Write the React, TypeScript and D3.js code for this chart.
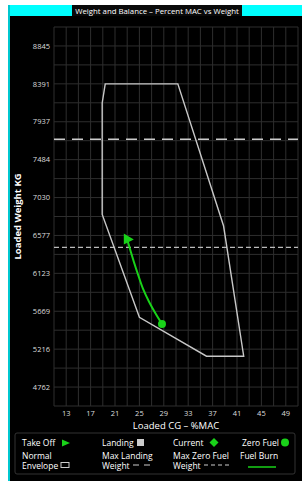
import React from "react";
import { scaleLinear, line, range, curveMonotoneY } from "d3";

// chart values
const yTicks = [4762, 5216, 5669, 6123, 6577, 7030, 7484, 7937, 8391, 8845];
const xTicks = [13, 17, 21, 25, 29, 33, 37, 41, 45, 49];
const envelopeCg = [19.4, 18.9, 18.9, 25.0, 36.0, 42.1, 38.8, 31.3];
const envelopeKg = [8391, 8163, 6829, 5597, 5132, 5132, 6690, 8391];
const fuelBurnCg = [23.1, 23.6, 24.1, 24.8, 25.6, 26.6, 27.6, 28.7];
const fuelBurnKg = [6505, 6379, 6260, 6104, 5937, 5781, 5649, 5518];
const takeOffCg = 23.1;
const takeOffKg = 6530;
const zeroFuelCg = 28.7;
const zeroFuelKg = 5518;
const maxLandingKg = 7730;
const maxZeroFuelKg = 6435;

const font = "'Open Sans', sans-serif";
const green = "#19d219";

function App() {
  const width = 302;
  const height = 481;
  const plot = { left: 54, right: 298, top: 27, bottom: 406 };

  const x = scaleLinear().domain([11, 51]).range([plot.left, plot.right]);
  const y = scaleLinear().domain([4536, 9072]).range([plot.bottom, plot.top]);

  const vGrid = range(11, 51.01, 2);
  const hGrid = range(0, 21).map((i) => 4536 + i * 226.8);

  const envelope = envelopeCg.map((c, i) => [x(c), y(envelopeKg[i])]);
  const envPath = "M" + envelope.map((p) => p.join(",")).join("L") + "Z";

  const burnLine = line<number>()
    .x((d, i) => x(fuelBurnCg[i]))
    .y((d) => y(d))
    .curve(curveMonotoneY);

  const tx = x(takeOffCg);
  const ty = y(takeOffKg);

  return (
    <svg
      width={width}
      height={height}
      style={{ position: "absolute", left: 0, top: 0, background: "#fff" }}
    >
      {/* frame */}
      <rect x={8} y={5} width={294} height={476} fill="#000" />
      <rect x={8} y={5} width={294} height={11} fill="#00ffff" />
      <rect x={8} y={5} width={2} height={476} fill="#00c8d0" />
      <rect x={72} y={5} width={170} height={11} fill="#0a0a0a" />
      <text
        x={157}
        y={13.5}
        fill="#fff"
        fontSize={7.8}
        fontFamily={font}
        textAnchor="middle"
      >
        Weight and Balance – Percent MAC vs Weight
      </text>

      {/* grid */}
      {vGrid.map((v) => (
        <line
          key={"v" + v}
          x1={x(v)}
          x2={x(v)}
          y1={plot.top}
          y2={plot.bottom}
          stroke="#2e2e2e"
          strokeWidth={1}
        />
      ))}
      {hGrid.map((h, i) => (
        <line
          key={"h" + i}
          x1={plot.left}
          x2={plot.right}
          y1={y(h)}
          y2={y(h)}
          stroke="#2e2e2e"
          strokeWidth={1}
        />
      ))}

      {/* ticks */}
      {yTicks.map((t) => (
        <text
          key={t}
          x={50}
          y={y(t)}
          dy="0.35em"
          fill="#ddd"
          fontSize={7.5}
          fontFamily={font}
          textAnchor="end"
        >
          {t}
        </text>
      ))}
      {xTicks.map((t) => (
        <text
          key={t}
          x={x(t)}
          y={416}
          fill="#ddd"
          fontSize={7.5}
          fontFamily={font}
          textAnchor="middle"
        >
          {t}
        </text>
      ))}
      <text
        transform={`translate(21,${(plot.top + plot.bottom) / 2}) rotate(-90)`}
        fill="#fff"
        fontSize={9.5}
        fontWeight="bold"
        fontFamily={font}
        textAnchor="middle"
      >
        Loaded Weight KG
      </text>
      <text
        x={(plot.left + plot.right) / 2}
        y={429}
        fill="#fff"
        fontSize={9.5}
        fontFamily={font}
        textAnchor="middle"
      >
        Loaded CG – %MAC
      </text>

      {/* limit lines */}
      <line
        x1={plot.left}
        x2={plot.right}
        y1={y(maxLandingKg)}
        y2={y(maxLandingKg)}
        stroke="#ccc"
        strokeWidth={1.5}
        strokeDasharray="11,7"
      />
      <line
        x1={plot.left}
        x2={plot.right}
        y1={y(maxZeroFuelKg)}
        y2={y(maxZeroFuelKg)}
        stroke="#bbb"
        strokeWidth={1.2}
        strokeDasharray="5,3"
      />

      {/* envelope */}
      <path d={envPath} fill="none" stroke="#c8c8c8" strokeWidth={1.4} />

      {/* fuel burn */}
      <path d={burnLine(fuelBurnKg) || ""} fill="none" stroke={green} strokeWidth={2} />
      <path
        d={`M${tx - 4},${ty - 6}L${tx + 6},${ty}L${tx - 4},${ty + 5}Z`}
        fill={green}
      />
      <circle cx={x(zeroFuelCg)} cy={y(zeroFuelKg)} r={4} fill={green} />

      {/* legend */}
      <rect
        x={15}
        y={433}
        width={280}
        height={41}
        rx={2}
        fill="none"
        stroke="#333"
        strokeWidth={1}
      />
      <g fill="#fff" fontSize={8.5} fontFamily={font}>
        <text x={22} y={446}>Take Off</text>
        <path d="M62,439.5L70,443L62,446.5Z" fill={green} />
        <text x={102} y={446}>Landing</text>
        <rect x={137} y={439} width={7} height={7} fill="#ccc" />
        <text x={173} y={446}>Current</text>
        <path d="M214,438L218.5,442.5L214,447L209.5,442.5Z" fill={green} />
        <text x={242} y={446}>Zero Fuel</text>
        <circle cx={285} cy={442.5} r={4} fill={green} />

        <text x={22} y={458.5}>Normal</text>
        <text x={22} y={468.5}>Envelope</text>
        <rect x={61} y={462.5} width={8} height={5} fill="none" stroke="#ccc" strokeWidth={1} />
        <text x={102} y={458.5}>Max Landing</text>
        <text x={102} y={468.5}>Weight</text>
        <line x1={133} x2={155} y1={465} y2={465} stroke="#ccc" strokeWidth={1} strokeDasharray="6,5" />
        <text x={173} y={458.5}>Max Zero Fuel</text>
        <text x={173} y={468.5}>Weight</text>
        <line x1={204} x2={230} y1={465} y2={465} stroke="#ccc" strokeWidth={1} strokeDasharray="4,3" />
        <text x={240} y={458.5}>Fuel Burn</text>
        <line x1={248} x2={276} y1={467} y2={467} stroke={green} strokeWidth={1.5} />
      </g>
    </svg>
  );
}

export default App;
